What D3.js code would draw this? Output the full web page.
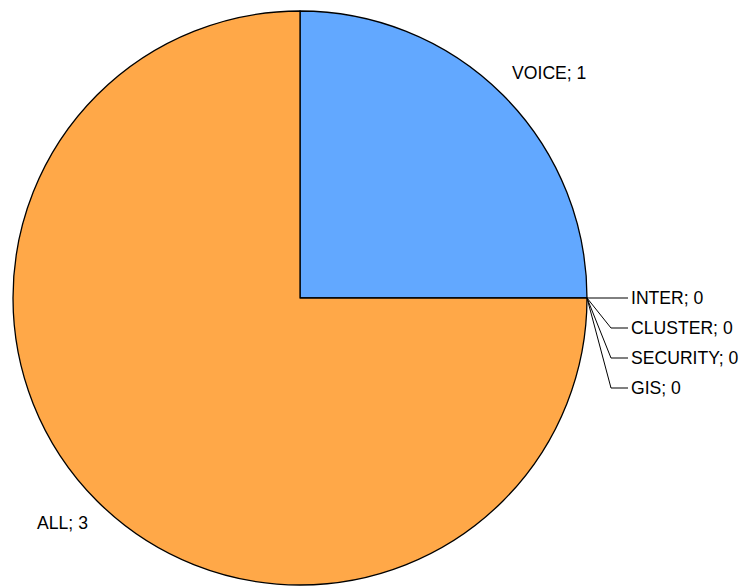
<!DOCTYPE html>
<html><head><meta charset="utf-8">
<script src="https://cdn.jsdelivr.net/npm/d3@7"></script>
<style>html,body{margin:0;padding:0;background:#fff;}</style>
</head><body>
<svg id="chart" width="741" height="586"></svg>
<script>
const categories = ["VOICE", "INTER", "CLUSTER", "SECURITY", "GIS", "ALL"];
const values = [1, 0, 0, 0, 0, 3];
const colors = ["#62a8ff", "#62a8ff", "#62a8ff", "#62a8ff", "#62a8ff", "#ffa848"];

const W = 741, H = 586;
const cx = 300, cy = 298, R = 287;
const svg = d3.select("#chart");
const g = svg.append("g").attr("transform", `translate(${cx},${cy})`);

const data = categories.map((c, i) => ({ name: c, value: values[i], color: colors[i] }));
const pie = d3.pie().value(d => d.value).sort(null);
const arcs = pie(data);
const arc = d3.arc().innerRadius(0).outerRadius(R);

g.selectAll("path.slice").data(arcs.filter(a => a.data.value > 0)).join("path")
  .attr("class", "slice")
  .attr("d", arc)
  .attr("fill", d => d.data.color)
  .attr("stroke", "#000")
  .attr("stroke-width", 1.3)
  .attr("stroke-linejoin", "round");

const font = "Liberation Sans, Arial, sans-serif";
const FS = 17.6;

// labels for non-zero slices
g.selectAll("text.main").data(arcs.filter(a => a.data.value > 0)).join("text")
  .attr("class", "main")
  .attr("transform", d => {
    const m = (d.startAngle + d.endAngle) / 2;
    return `translate(${Math.sin(m) * R * 1.045},${-Math.cos(m) * R * 1.109})`;
  })
  .attr("text-anchor", d => Math.sin((d.startAngle + d.endAngle) / 2) >= 0 ? "start" : "end")
  .attr("dominant-baseline", "central")
  .attr("font-family", font)
  .attr("font-size", FS)
  .attr("fill", "#000")
  .text(d => `${d.data.name}; ${d.data.value}`);

// zero slices: stacked labels with leader lines
const zeros = arcs.filter(a => a.data.value === 0);
const yScale = d3.scaleLinear().domain([0, 1]).range([0, 30]);
zeros.forEach((d, i) => {
  const a = d.startAngle;
  const px = R * Math.sin(a), py = -R * Math.cos(a);
  const ly = py + yScale(i);
  const elbowX = px + 24, endX = px + 41;
  g.append("path")
    .attr("d", `M${px},${py}L${elbowX},${ly}L${endX},${ly}`)
    .attr("fill", "none")
    .attr("stroke", "#000")
    .attr("stroke-width", 1);
  g.append("text")
    .attr("x", endX + 3)
    .attr("y", ly)
    .attr("dominant-baseline", "central")
    .attr("font-family", font)
    .attr("font-size", FS)
    .attr("fill", "#000")
    .text(`${d.data.name}; ${d.data.value}`);
});
</script>
</body></html>
